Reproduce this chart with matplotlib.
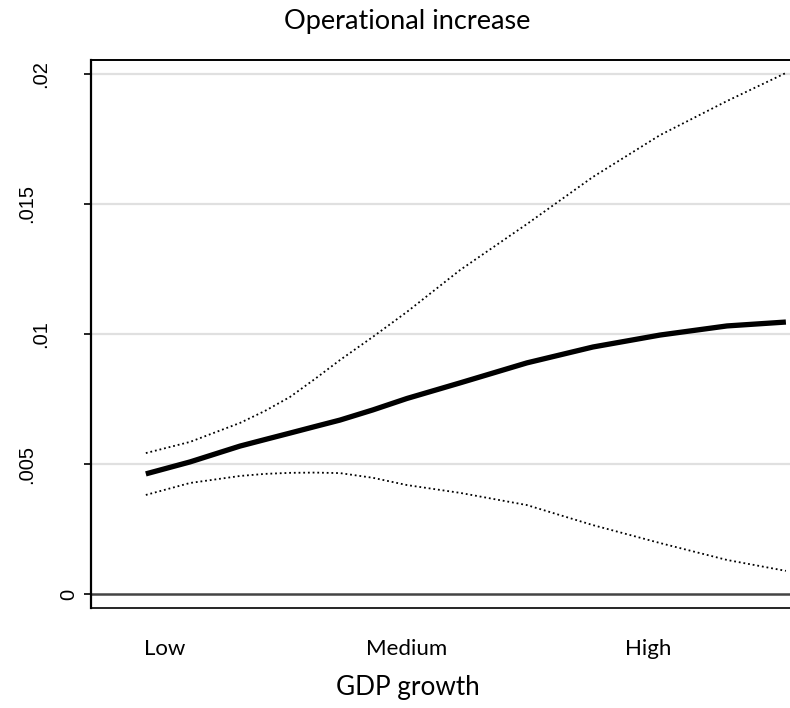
import matplotlib
matplotlib.use("Agg")
import matplotlib.pyplot as plt
from matplotlib.transforms import blended_transform_factory

# GDP growth positions (Low=1, Medium=2, High=3)
gdp_growth = [0.921, 1.104, 1.311, 1.414, 1.518, 1.621, 1.725, 1.861, 2.002, 2.222, 2.499, 2.772, 3.050, 3.327, 3.571]
effect = [0.00462, 0.00508, 0.00569, 0.00594, 0.00619, 0.00644, 0.00669, 0.00708, 0.00752, 0.00812, 0.00889, 0.00950, 0.00996, 0.01031, 0.01046]
upper_ci = [0.00542, 0.00585, 0.00658, 0.00704, 0.00758, 0.00827, 0.00900, 0.00989, 0.01085, 0.01246, 0.01423, 0.01604, 0.01765, 0.01896, 0.02004]
lower_ci = [0.00381, 0.00427, 0.00454, 0.00462, 0.00466, 0.00467, 0.00465, 0.00447, 0.00419, 0.00389, 0.00342, 0.00265, 0.00196, 0.00131, 0.00089]

x_tick_pos = [1, 2, 3]
x_tick_labels = ["Low", "Medium", "High"]
y_ticks = [0, 0.005, 0.01, 0.015, 0.02]
y_tick_labels = ["0", ".005", ".01", ".015", ".02"]

W, H = 790, 708
fig = plt.figure(figsize=(W / 100, H / 100), dpi=100)
ax = fig.add_axes([91 / W, 1 - 608 / H, (790 - 91) / W, (608 - 60) / H])

ax.set_xlim(0.694, 3.588)
ax.set_ylim(-0.000538, 0.020538)

for yv in y_ticks[1:]:
    ax.axhline(yv, color="#e0e0e0", lw=1.6, zorder=1)
ax.axhline(0, color="#444444", lw=1.8, zorder=2)

ax.plot(gdp_growth, upper_ci, color="black", lw=1.3, ls=(0, (1, 1.6)), zorder=3)
ax.plot(gdp_growth, lower_ci, color="black", lw=1.3, ls=(0, (1, 1.6)), zorder=3)
ax.plot(gdp_growth, effect, color="black", lw=3.8, zorder=4, solid_capstyle="butt")

ax.spines["right"].set_visible(False)
for s in ["left", "bottom", "top"]:
    ax.spines[s].set_color("black")
ax.spines["left"].set_linewidth(1.6)
ax.spines["bottom"].set_linewidth(1.2)
ax.spines["top"].set_linewidth(1.4)

ax.set_yticks(y_ticks)
ax.set_yticklabels([])
ax.tick_params(axis="y", length=5, width=1.2, color="black")

ax.set_xticks(x_tick_pos)
ax.set_xticklabels(x_tick_labels, fontfamily="Lato", fontsize=16)
ax.tick_params(axis="x", length=0, pad=22)

tr = blended_transform_factory(fig.transFigure, ax.transData)
for yv, lab in zip(y_ticks, y_tick_labels):
    xl = (74 - 14.3 * len(lab)) / W
    ax.text(xl, yv, lab, transform=tr, rotation=90, ha="left", va="center",
            fontfamily="Liberation Sans", fontsize=14.5)

fig.text(407 / W, 1 - 22 / H, "Operational increase", ha="center", va="center",
         fontfamily="Lato", fontsize=19.5)
fig.text(408 / W, 1 - 688 / H, "GDP growth", ha="center", va="center",
         fontfamily="Lato", fontsize=18.8)

fig.savefig("out.png", dpi=100, facecolor="white")
